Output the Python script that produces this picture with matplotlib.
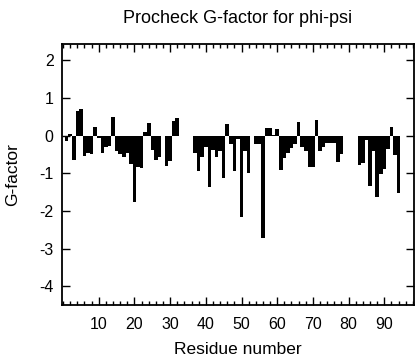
import numpy as np
import matplotlib
matplotlib.use("Agg")
import matplotlib.pyplot as plt
from matplotlib.ticker import MultipleLocator

plt.rcParams['font.family'] = ['Liberation Sans', 'DejaVu Sans']
plt.rcParams['axes.unicode_minus'] = False

# G-factor per residue, three stretches with gaps in between
res_a = list(range(1, 33))
g_a = [-0.13, 0.05, -0.65, 0.65, 0.72, -0.54, -0.45, -0.49, 0.24, -0.07,
       -0.45, -0.31, -0.27, 0.49, -0.42, -0.50, -0.57, -0.45, -0.76, -1.75,
       -0.82, -0.87, 0.10, 0.33, -0.38, -0.64, -0.56, 0.0, -0.80, -0.68,
       0.39, 0.46]

res_b = list(range(37, 79))
g_b = [-0.47, -0.94, -0.56, -0.30, -1.37, -0.38, -0.56, -0.42, -1.13, 0.31,
       -0.22, -0.94, -0.10, -2.15, -0.42, -1.00, 0.0, -0.22, -0.22, -2.72,
       0.21, 0.21, 0.02, 0.17, -0.90, -0.60, -0.45, -0.34, -0.23, 0.37,
       -0.29, -0.42, -0.82, -0.82, 0.43, -0.42, -0.29, -0.20, -0.20, -0.20,
       -0.70, -0.50]

res_c = list(range(83, 95))
g_c = [-0.77, -0.73, -0.12, -1.35, -0.40, -1.64, -1.02, -0.88, -0.35, 0.22,
       -0.51, -1.53]

residues = res_a + res_b + res_c
gfactor = g_a + g_b + g_c

fig = plt.figure(figsize=(4.16, 3.6), dpi=100)
ax = fig.add_axes([0.149, 0.153, 0.846, 0.726])

ax.bar(residues, gfactor, width=1.0, color='black', linewidth=0)

ax.set_xlim(-0.3, 98.3)
ax.set_ylim(-4.5, 2.45)
ax.xaxis.set_minor_locator(MultipleLocator(2))
ax.yaxis.set_major_locator(MultipleLocator(1))
ax.set_xticks(range(10, 100, 10))

ax.tick_params(axis='both', which='both', direction='in', top=True, right=True,
               labelsize=11.5, width=1.0)
ax.tick_params(axis='x', which='major', length=6, pad=9)
ax.tick_params(axis='x', which='minor', length=3)
ax.tick_params(axis='y', which='major', length=6, pad=6)
for s in ax.spines.values():
    s.set_linewidth(1.3)

ax.set_title("Procheck G-factor for phi-psi", fontsize=13, pad=15)
ax.set_xlabel("Residue number", fontsize=12.5, labelpad=7)
ax.set_ylabel("G-factor", fontsize=12.5, labelpad=14)

fig.savefig("out.png", dpi=100)
